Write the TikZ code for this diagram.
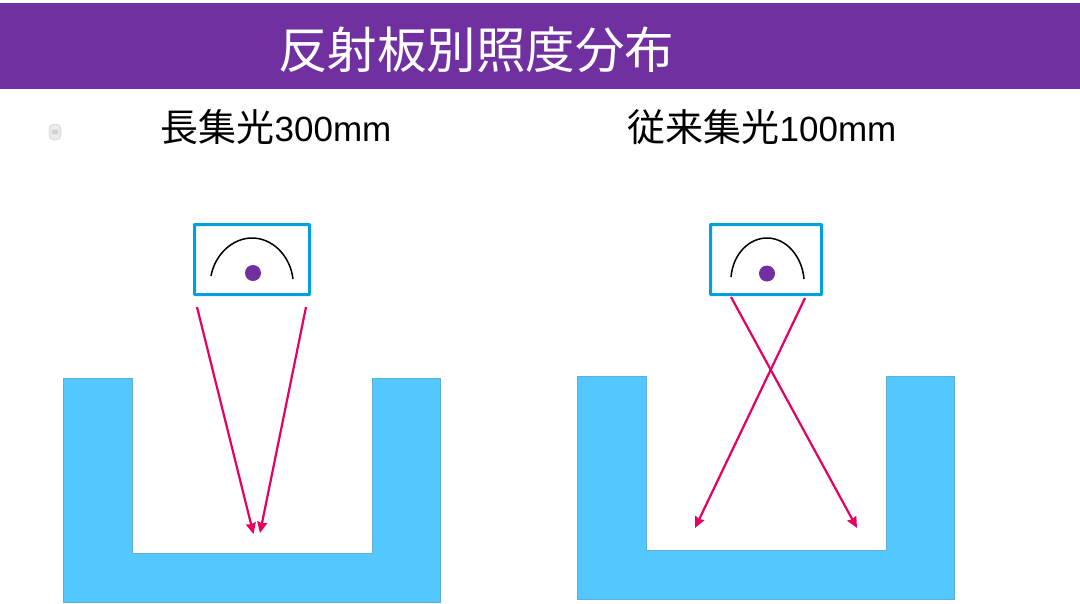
\documentclass[tikz,border=0pt]{standalone}
\usepackage{fontspec}
\setmainfont{Noto Sans CJK JP}
\newfontfamily\latinface{Liberation Sans}
\usetikzlibrary{arrows.meta}
\definecolor{bar}{HTML}{7030A0}
\definecolor{wall}{HTML}{53C8FF}
\definecolor{edgeb}{HTML}{00A0E0}
\definecolor{ray}{HTML}{E6005F}
\newcommand{\headfont}{\fontsize{38}{38}\selectfont}
\newcommand{\headlatin}{\latinface\fontsize{35}{38}\selectfont}
\tikzset{
  titletext/.style={inner sep=0pt,text=white,font=\fontsize{49.5}{49.5}\selectfont},
  headtext/.style={inner sep=0pt,text=black,font=\headfont},
  lampbox/.style={draw=edgeb,line width=3pt,fill=white,inner sep=0pt,rounded corners=0.5pt},
  lampdot/.style={circle,fill=bar,draw=none,minimum size=16pt,inner sep=0pt},
  reflector/.style={line width=1.5pt,black},
  rayline/.style={draw=ray,line width=2.2pt,-{Stealth[length=11pt,width=10pt,inset=1pt]}},
  trough/.style={fill=wall,draw=wall!65!gray,line width=0.6pt}
}
\begin{document}
\begin{tikzpicture}[x=1pt,y=-1pt]
\useasboundingbox (0,0) rectangle (1080,603);
\fill[white] (0,0) rectangle (1080,603);
\fill[bar] (0,3) rectangle (1080,89);
\node[titletext,anchor=center] (title) at (476,50) {反射板別照度分布};
\node[headtext,anchor=center] (headL) at (276,127.5) {長集光{\headlatin 300mm}};
\node[headtext,anchor=center] (headR) at (762,127.5) {従来集光{\headlatin 100mm}};
% small blurred mark
\node[draw=gray!25,fill=gray!15,line width=1.5pt,rounded corners=4pt,minimum width=11pt,minimum height=15pt,inner sep=0pt] (mark) at (55,132) {};
\node[fill=gray!35,minimum width=6pt,minimum height=5pt,inner sep=0pt,rounded corners=1pt] (markcore) at (55,132) {};
% troughs
\draw[trough] (63.5,378) -- (132.5,378) -- (132.5,553) -- (372,553) -- (372,378) -- (440.5,378) -- (440.5,602.5) -- (63.5,602.5) -- cycle;
\draw[trough] (577.5,376) -- (646.5,376) -- (646.5,550) -- (886,550) -- (886,376) -- (954.5,376) -- (954.5,599.5) -- (577.5,599.5) -- cycle;
% left lamp
\node[lampbox,minimum width=115pt,minimum height=70pt] (boxL) at (252,259.5) {};
\draw[reflector] (211,276) .. controls (215,254) and (233,238) .. (252,238) .. controls (272,238) and (290,255) .. (293,279);
\node[lampdot] (dotL) at (253,273) {};
% right lamp
\node[lampbox,minimum width=111pt,minimum height=70pt] (boxR) at (766,259.5) {};
\draw[reflector] (731,277) .. controls (733,254) and (749,238) .. (767,238) .. controls (786,238) and (802,256) .. (804,279);
\node[lampdot] (dotR) at (767,273.5) {};
% ray ends
\coordinate (a1) at (197,307);
\coordinate (a2) at (253.5,534);
\coordinate (b1) at (306,307);
\coordinate (b2) at (260,533);
\coordinate (c1) at (731,297);
\coordinate (c2) at (857,528);
\coordinate (d1) at (805,298);
\coordinate (d2) at (695,528);
\draw[rayline] (a1) -- (a2);
\draw[rayline] (b1) -- (b2);
\draw[rayline] (c1) -- (c2);
\draw[rayline] (d1) -- (d2);
\end{tikzpicture}
\end{document}
